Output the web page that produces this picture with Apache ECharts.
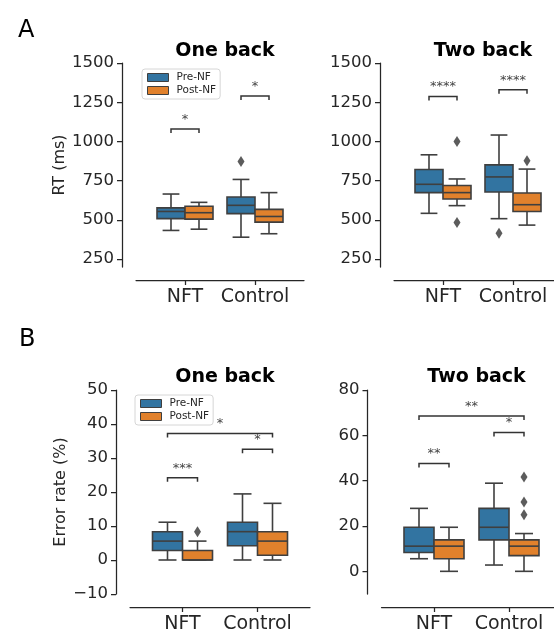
<!DOCTYPE html>
<html>
<head>
<meta charset="utf-8">
<script src="https://cdn.jsdelivr.net/npm/echarts@6/dist/echarts.min.js"></script>
<style>
html, body { margin: 0; padding: 0; background: #fff; }
#chart { width: 554px; height: 637px; }
</style>
</head>
<body>
<div id="chart"></div>
<script>
// x categories and hues
var groups = ['NFT', 'Control'];
var hues = ['Pre-NF', 'Post-NF'];

// box stats per group: [low whisker, q1, median, q3, high whisker]
var rtOnePre = [[433, 508, 554, 577, 665], [390, 540, 593, 646, 758]];
var rtOnePost = [[441, 505, 546, 587, 612], [412, 486, 522, 567, 674]];
var rtTwoPre = [[542, 674, 727, 821, 915], [508, 678, 774, 851, 1041]];
var rtTwoPost = [[591, 633, 674, 719, 761], [467, 554, 597, 672, 824]];
var errOnePre = [[0, 2.78, 5.56, 8.33, 11.11], [0, 4.17, 8.33, 11.11, 19.44]];
var errOnePost = [[0, 0, 0, 2.78, 5.56], [0, 1.39, 5.56, 8.33, 16.67]];
var errTwoPre = [[5.56, 8.33, 11.11, 19.44, 27.78], [2.78, 13.89, 19.44, 27.78, 38.89]];
var errTwoPost = [[0, 5.56, 11.11, 13.89, 19.44], [0, 6.94, 11.11, 13.89, 16.67]];

// outliers per group
var rtOnePreOut = [[], [872]];
var rtOnePostOut = [[], []];
var rtTwoPreOut = [[], [415]];
var rtTwoPostOut = [[483, 1000], [877]];
var errOnePreOut = [[], []];
var errOnePostOut = [[8.33], []];
var errTwoPreOut = [[], []];
var errTwoPostOut = [[], [25, 30.56, 41.67]];

// significance brackets: [from box, to box, y, stars]  (box 0..3 = NFT pre, NFT post, Control pre, Control post)
var rtOneBrackets = [[0, 1, 1080, '*'], [2, 3, 1290, '*']];
var rtTwoBrackets = [[0, 1, 1286, '****'], [2, 3, 1329, '****']];
var errOneBrackets = [[0, 1, 24.2, '***'], [2, 3, 32.6, '*'], [0, 3, 37.2, '*']];
var errTwoBrackets = [[0, 1, 47.6, '**'], [2, 3, 61.3, '*'], [0, 3, 68.5, '**']];

// y tick labels
var rtTicks = [250, 500, 750, 1000, 1250, 1500];
var errOneTicks = [-10, 0, 10, 20, 30, 40, 50];
var errTwoTicks = [0, 20, 40, 60, 80];

var blue = '#3274a1';
var orange = '#e1812c';
var edge = '#3f3f3f';
var ink = '#262626';
var font = 'DejaVu Sans';

var panels = [
  { title: 'One back', pre: rtOnePre, post: rtOnePost, preOut: rtOnePreOut, postOut: rtOnePostOut, brackets: rtOneBrackets, ticks: rtTicks, min: 200, max: 1500, name: 'RT (ms)', gap: 54 },
  { title: 'Two back', pre: rtTwoPre, post: rtTwoPost, preOut: rtTwoPreOut, postOut: rtTwoPostOut, brackets: rtTwoBrackets, ticks: rtTicks, min: 200, max: 1500, name: '', gap: 54 },
  { title: 'One back', pre: errOnePre, post: errOnePost, preOut: errOnePreOut, postOut: errOnePostOut, brackets: errOneBrackets, ticks: errOneTicks, min: -10, max: 50, name: 'Error rate (%)', gap: 47 },
  { title: 'Two back', pre: errTwoPre, post: errTwoPost, preOut: errTwoPreOut, postOut: errTwoPostOut, brackets: errTwoBrackets, ticks: errTwoTicks, min: -10, max: 80, name: '', gap: 47 }
];

var grids = [
  { left: 136, top: 63, width: 168, height: 204 },
  { left: 394, top: 63, width: 168, height: 204 },
  { left: 130, top: 390, width: 180, height: 204 },
  { left: 381.5, top: 390, width: 180, height: 204 }
];

function boxX(i) {
  return Math.floor(i / 2) + (i % 2 ? 0.2 : -0.2);
}

function tickText(v) {
  return v < 0 ? '\u2212' + Math.abs(v) : String(v);
}

function renderBox(params, api) {
  var x = api.value(0);
  var cx = api.coord([x, 0])[0];
  var yLo = api.coord([x, api.value(1)])[1];
  var yQ1 = api.coord([x, api.value(2)])[1];
  var yMed = api.coord([x, api.value(3)])[1];
  var yQ3 = api.coord([x, api.value(4)])[1];
  var yHi = api.coord([x, api.value(5)])[1];
  var half = api.size([0.4, 0])[0] / 2;
  var cap = half * 0.6;
  var ls = { stroke: edge, lineWidth: 1.6 };
  return {
    type: 'group',
    children: [
      { type: 'line', shape: { x1: cx, y1: yQ3, x2: cx, y2: yHi }, style: ls },
      { type: 'line', shape: { x1: cx, y1: yQ1, x2: cx, y2: yLo }, style: ls },
      { type: 'line', shape: { x1: cx - cap, y1: yHi, x2: cx + cap, y2: yHi }, style: ls },
      { type: 'line', shape: { x1: cx - cap, y1: yLo, x2: cx + cap, y2: yLo }, style: ls },
      { type: 'rect', shape: { x: cx - half, y: yQ3, width: half * 2, height: yQ1 - yQ3 },
        style: { fill: api.visual('color'), stroke: edge, lineWidth: 1.6 } },
      { type: 'line', shape: { x1: cx - half, y1: yMed, x2: cx + half, y2: yMed }, style: ls }
    ]
  };
}

function bracketRenderer(list) {
  return function (params, api) {
    var y = api.value(2);
    var p1 = api.coord([api.value(0), y]);
    var p2 = api.coord([api.value(1), y]);
    return {
      type: 'group',
      children: [
        { type: 'polyline', shape: { points: [[p1[0], p1[1] + 4], [p1[0], p1[1]], [p2[0], p2[1]], [p2[0], p2[1] + 4]] },
          style: { stroke: '#333', fill: null, lineWidth: 1.5 } },
        { type: 'text', x: (p1[0] + p2[0]) / 2, y: p1[1] - 3,
          style: { text: list[params.dataIndex][3], align: 'center', verticalAlign: 'bottom',
                   fontSize: 13, fontFamily: font, fill: '#444' } }
      ]
    };
  };
}

var xAxes = [], yAxes = [], series = [], titles = [];

titles.push({ text: 'A', left: 13, top: 14, textStyle: { fontSize: 24, fontWeight: 'normal', color: '#000', fontFamily: font } });
titles.push({ text: 'B', left: 14, top: 323, textStyle: { fontSize: 24, fontWeight: 'normal', color: '#000', fontFamily: font } });

panels.forEach(function (p, k) {
  var g = grids[k];
  titles.push({
    text: p.title, left: g.left + g.width / 2, top: k < 2 ? 37 : 363, textAlign: 'center',
    textStyle: { fontSize: 19, fontWeight: 'bold', color: '#000', fontFamily: font }
  });
  xAxes.push({
    type: 'value', gridIndex: k, min: -0.7, max: 1.7, offset: 13,
    axisLine: { show: true, onZero: false, lineStyle: { color: ink, width: 1.25 } },
    axisTick: { show: true, length: 5, customValues: [0, 1], lineStyle: { color: ink, width: 1.25 } },
    axisLabel: { customValues: [0, 1], margin: 8, fontSize: 19, color: ink, fontFamily: font,
                 formatter: function (v) { return groups[Math.round(v)]; } },
    splitLine: { show: false }
  });
  yAxes.push({
    type: 'value', gridIndex: k, min: p.min, max: p.max, offset: 14,
    name: p.name, nameLocation: 'middle', nameGap: p.gap,
    nameTextStyle: { fontSize: 16, color: ink, fontFamily: font },
    axisLine: { show: true, onZero: false, lineStyle: { color: ink, width: 1.25 } },
    axisTick: { show: true, length: 5, customValues: p.ticks, lineStyle: { color: ink, width: 1.25 } },
    axisLabel: { customValues: p.ticks, margin: 8, fontSize: 16.5, color: ink, fontFamily: font, formatter: tickText },
    splitLine: { show: false }
  });
  [p.pre, p.post].forEach(function (stats, h) {
    series.push({
      type: 'custom', name: hues[h], xAxisIndex: k, yAxisIndex: k,
      renderItem: renderBox, itemStyle: { color: h ? orange : blue },
      encode: { x: 0, y: [1, 2, 3, 4, 5] },
      data: stats.map(function (s, gi) { return [gi + (h ? 0.2 : -0.2)].concat(s); }),
      z: 2
    });
  });
  var outPts = [];
  [p.preOut, p.postOut].forEach(function (outs, h) {
    outs.forEach(function (vals, gi) {
      vals.forEach(function (v) { outPts.push([gi + (h ? 0.2 : -0.2), v]); });
    });
  });
  series.push({
    type: 'scatter', name: 'outliers', xAxisIndex: k, yAxisIndex: k,
    symbol: 'diamond', symbolSize: [7, 11], itemStyle: { color: '#333' }, data: outPts, z: 3
  });
  series.push({
    type: 'custom', name: 'brackets', xAxisIndex: k, yAxisIndex: k,
    renderItem: bracketRenderer(p.brackets), encode: { x: [0, 1], y: 2 },
    data: p.brackets.map(function (b) { return [boxX(b[0]), boxX(b[1]), b[2]]; }), z: 4
  });
});

function legendAt(left, top) {
  return {
    left: left, top: top, orient: 'vertical', selectedMode: false,
    icon: 'rect', itemWidth: 21, itemHeight: 8, itemGap: 2,
    padding: [3, 4, 3, 5], backgroundColor: '#fff',
    borderColor: '#d6d6d6', borderWidth: 1, borderRadius: 3,
    textStyle: { fontSize: 10.5, color: ink, fontFamily: font, padding: [0, 0, 0, 3] },
    data: [
      { name: 'Pre-NF', itemStyle: { color: blue, borderColor: edge, borderWidth: 1 } },
      { name: 'Post-NF', itemStyle: { color: orange, borderColor: edge, borderWidth: 1 } }
    ]
  };
}

var chart = echarts.init(document.getElementById('chart'), null, { renderer: 'canvas' });
chart.setOption({
  animation: false,
  backgroundColor: '#fff',
  textStyle: { fontFamily: font },
  title: titles,
  legend: [legendAt(142, 69), legendAt(135, 395)],
  grid: grids.map(function (g) {
    return { left: g.left, top: g.top, width: g.width, height: g.height, outerBoundsMode: 'none' };
  }),
  xAxis: xAxes,
  yAxis: yAxes,
  series: series
});
</script>
</body>
</html>
